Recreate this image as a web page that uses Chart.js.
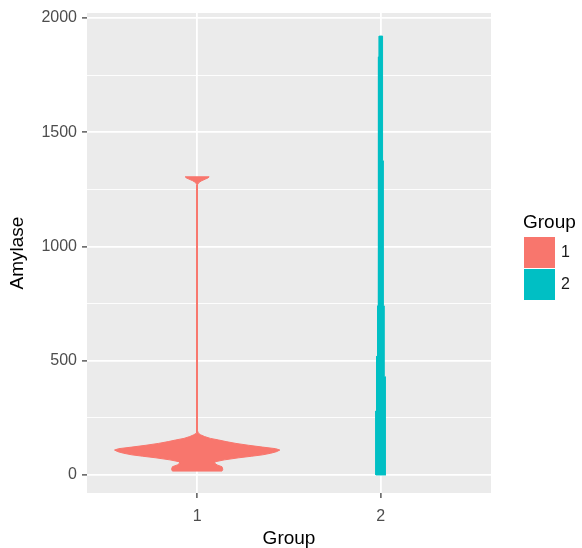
<!DOCTYPE html>
<html>
<head>
<meta charset="utf-8">
<script src="https://cdn.jsdelivr.net/npm/chart.js@4.4.1/dist/chart.umd.min.js"></script>
<style>
html,body{margin:0;padding:0;background:#ffffff;}
#wrap{position:relative;width:582px;height:548px;}
canvas{display:block;}
</style>
</head>
<body>
<div id="wrap"><canvas id="c" width="582" height="548"></canvas></div>
<script>
// ---- data ----
const groups = ['1', '2'];
const groupColors = ['#F8766D', '#00BFC4'];

// Group 1 violin: amylase levels and relative density (max = 1)
const group1Amylase = [17, 25, 36, 44, 52, 58, 66, 75, 82, 88, 95, 102, 109, 115, 122, 130, 138, 146, 153, 160, 168, 176, 184, 195, 400, 800, 1270, 1280, 1288, 1295, 1300, 1305];
const group1Density = [0.30, 0.31, 0.30, 0.24, 0.21, 0.22, 0.33, 0.50, 0.66, 0.79, 0.89, 0.96, 1.00, 0.95, 0.79, 0.62, 0.47, 0.35, 0.26, 0.16, 0.09, 0.04, 0.012, 0.003, 0.003, 0.003, 0.003, 0.02, 0.055, 0.10, 0.13, 0.145];

// Group 2 violin: amylase levels and relative density
const group2Amylase = [0, 280, 280, 430, 430, 520, 520, 740, 740, 1375, 1375, 1830, 1830, 1921];
const group2Density = [0.060, 0.060, 0.054, 0.054, 0.047, 0.047, 0.039, 0.039, 0.031, 0.031, 0.025, 0.025, 0.019, 0.019];

const yMajorTicks = [0, 500, 1000, 1500, 2000];
const yMinorTicks = [250, 750, 1250, 1750];
const xTickValues = [1, 2];
const xTickLabels = ['1', '2'];

// ---- build ----
const FONT = "'Liberation Sans', Arial, sans-serif";
Chart.defaults.font.family = FONT;

const MAX_HALF_WIDTH = 0.45;
function violinOutline(center, levels, dens) {
  const right = levels.map((y, i) => ({ x: center + dens[i] * MAX_HALF_WIDTH, y }));
  const left = levels.map((y, i) => ({ x: center - dens[i] * MAX_HALF_WIDTH, y })).reverse();
  return right.concat(left, [right[0]]);
}

const series = [
  { label: groups[0], levels: group1Amylase, dens: group1Density },
  { label: groups[1], levels: group2Amylase, dens: group2Density }
];

const datasets = series.map((s, i) => ({
  label: s.label,
  data: violinOutline(xTickValues[i], s.levels, s.dens),
  showLine: true,
  fill: 'shape',
  backgroundColor: groupColors[i],
  borderColor: groupColors[i],
  borderWidth: 1,
  pointRadius: 0,
  pointHoverRadius: 0,
  tension: 0
}));

const panelBg = {
  id: 'panelBg',
  beforeDraw(chart) {
    const { ctx, chartArea: a } = chart;
    ctx.save();
    ctx.fillStyle = '#EBEBEB';
    ctx.fillRect(a.left, a.top, a.right - a.left, a.bottom - a.top);
    ctx.restore();
  }
};

const ggLegend = {
  id: 'ggLegend',
  afterDraw(chart) {
    const { ctx } = chart;
    ctx.save();
    ctx.fillStyle = '#000000';
    ctx.font = "19px " + FONT;
    ctx.textBaseline = 'alphabetic';
    ctx.textAlign = 'left';
    ctx.fillText('Group', 523, 228);
    chart.data.datasets.forEach((d, i) => {
      const y0 = 237 + i * 32;
      ctx.fillStyle = '#F2F2F2';
      ctx.fillRect(524, y0, 31, 31);
      ctx.fillStyle = d.backgroundColor;
      ctx.fillRect(524, y0, 31, 31);
      ctx.fillStyle = '#1A1A1A';
      ctx.font = "16px " + FONT;
      ctx.textBaseline = 'middle';
      ctx.fillText(d.label, 561, y0 + 16);
    });
    ctx.restore();
  }
};

new Chart(document.getElementById('c'), {
  type: 'scatter',
  data: { datasets },
  plugins: [panelBg, ggLegend],
  options: {
    responsive: false,
    animation: false,
    devicePixelRatio: 1,
    layout: { padding: { left: 0, top: 13, right: 91, bottom: 0 } },
    plugins: { legend: { display: false }, tooltip: { enabled: false } },
    scales: {
      x: {
        type: 'linear',
        min: 0.4,
        max: 2.6,
        afterBuildTicks: s => { s.ticks = xTickValues.map(v => ({ value: v })); },
        afterFit: s => { s.height = 55; s.paddingLeft = 0; s.paddingRight = 0; },
        ticks: {
          autoSkip: false,
          maxRotation: 0,
          padding: 9,
          color: '#4D4D4D',
          font: { size: 16 },
          callback: v => { const k = xTickValues.indexOf(v); return k >= 0 ? xTickLabels[k] : ''; }
        },
        grid: { color: '#FFFFFF', lineWidth: 1.8, tickColor: '#333333', tickLength: 5, tickWidth: 1.2 },
        border: { display: false },
        title: { display: true, text: 'Group', color: '#000000', font: { size: 19, lineHeight: 1 }, padding: { top: 0, bottom: 0 } }
      },
      y: {
        type: 'linear',
        min: -79,
        max: 2022,
        afterBuildTicks: s => {
          s.ticks = yMinorTicks.concat(yMajorTicks).sort((a, b) => a - b).map(v => ({ value: v }));
        },
        afterFit: s => { s.width = 87; s.paddingTop = 0; s.paddingBottom = 0; },
        ticks: {
          autoSkip: false,
          padding: 5,
          color: '#4D4D4D',
          font: { size: 16 },
          callback: v => (yMajorTicks.includes(v) ? String(v) : '')
        },
        grid: {
          color: '#FFFFFF',
          lineWidth: c => (c.tick && yMajorTicks.includes(c.tick.value) ? 1.8 : 0.9),
          tickColor: c => (c.tick && yMajorTicks.includes(c.tick.value) ? '#333333' : 'rgba(0,0,0,0)'),
          tickLength: 5,
          tickWidth: 1.2
        },
        border: { display: false },
        title: { display: true, text: 'Amylase', color: '#000000', font: { size: 19, lineHeight: 1 }, padding: { top: 8, bottom: 0 } }
      }
    }
  }
});
</script>
</body>
</html>
